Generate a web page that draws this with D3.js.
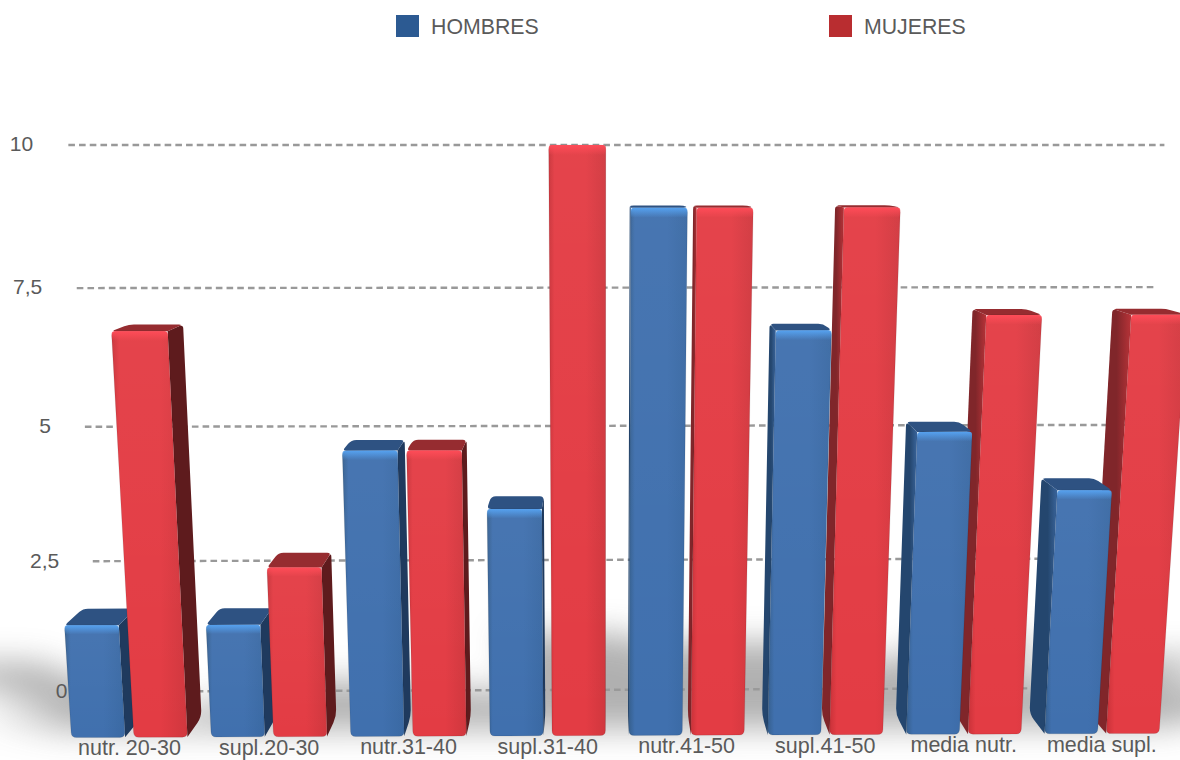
<!DOCTYPE html>
<html lang="es">
<head>
<meta charset="UTF-8">
<title>Hombres y mujeres</title>
<script src="https://cdnjs.cloudflare.com/ajax/libs/d3/7.9.0/d3.min.js"></script>
<style>
    html, body { margin: 0; background: #fff; }
    svg { display: block; }
    text { font-family: "Liberation Sans", Arial, sans-serif; fill: #5a5a5a; }
</style>
</head>
<body>
<svg id="chart" width="1180" height="760"></svg>
<script>
const categories = ['nutr. 20-30', 'supl.20-30', 'nutr.31-40', 'supl.31-40', 'nutr.41-50', 'supl.41-50', 'media nutr.', 'media supl.'];
const seriesNames = ['HOMBRES', 'MUJERES'];
const hombres = [2, 2, 5, 4, 9, 7, 5.3, 4.3];
const mujeres = [7, 3, 5, 10, 9, 9, 7.25, 7.25];
const ticks = [0, 2.5, 5, 7.5, 10];
const tickLabels = ['0', '2,5', '5', '7,5', '10'];

// camera of the 3D scene (one world unit = one value unit)
const cam = { f: 1440, px: 600, py: 380, pitch: 9.27 * Math.PI / 180, yaw: 0.0094, height: 10, dist: 23.4 };
const barDepth = 0.88;
const wallZ = 2.1;

function project([X, Y, Z]) {
    const dy = Y - cam.height, dz = Z + cam.dist + X * cam.yaw;
    const s = Math.sin(cam.pitch), c = Math.cos(cam.pitch);
    const yc = dy * c + dz * s, zc = dz * c - dy * s;
    return [cam.px + cam.f * X / zc, cam.py - cam.f * yc / zc];
}

const x = d3.scaleBand().domain(categories).range([-9.24, 9.83]).paddingInner(0.17).paddingOuter(0.085);
const xSeries = d3.scaleBand().domain(seriesNames).range([0, x.bandwidth()]).paddingInner(0.14);
const y = d3.scaleLinear().domain([0, 10]).range([0, 10]);

const palette = {
    HOMBRES: { swatch: '#2c5a92', edge: '#36608f', face: '#4070ae', end: '#3a69a3', glow: '#56a2f0', top: '#2e5282', sideIn: '#1f3a5e', sideOut: '#24466e', lit: '#3a659c' },
    MUJERES: { swatch: '#b92d30', edge: '#c93239', face: '#e33c44', end: '#d0373e', glow: '#ff4c58', top: '#962c30', sideIn: '#5e1b1d', sideOut: '#80262a', lit: '#b83338' }
};

const svg = d3.select('#chart');
const defs = svg.append('defs');

defs.append('filter').attr('id', 'soft')
    .attr('x', '-20%').attr('y', '-40%').attr('width', '140%').attr('height', '180%')
    .append('feGaussianBlur').attr('stdDeviation', 16);

const fade = defs.append('linearGradient').attr('id', 'sheen').attr('x1', 0).attr('x2', 0).attr('y1', 0).attr('y2', 1);
fade.append('stop').attr('offset', 0).attr('stop-color', '#fff').attr('stop-opacity', 0.04);
fade.append('stop').attr('offset', 1).attr('stop-color', '#fff').attr('stop-opacity', 0);

seriesNames.forEach(name => {
    const p = palette[name];
    const g = defs.append('linearGradient').attr('id', 'front-' + name);
    [[0, p.edge], [0.1, p.face], [0.65, p.face], [1, p.end]].forEach(([o, col]) => {
        g.append('stop').attr('offset', o).attr('stop-color', col);
    });
    const h = defs.append('linearGradient').attr('id', 'glow-' + name).attr('x1', 0).attr('x2', 0).attr('y1', 0).attr('y2', 1);
    h.append('stop').attr('offset', 0).attr('stop-color', p.glow);
    h.append('stop').attr('offset', 1).attr('stop-color', p.glow).attr('stop-opacity', 0);
    // lit side of the bars right of the middle
    const side = defs.append('linearGradient').attr('id', 'side-' + name);
    [[0, p.sideOut], [0.65, p.sideOut], [1, p.lit]].forEach(([o, col]) => {
        side.append('stop').attr('offset', o).attr('stop-color', col);
    });
});

// polygon with its corners eased off, radii given per corner
function roundPath(pts, radii) {
    const n = pts.length;
    let d = '';
    pts.forEach((p, i) => {
        const prev = pts[(i + n - 1) % n], next = pts[(i + 1) % n];
        const a = towards(p, prev, radii[i]), b = towards(p, next, radii[i]);
        d += (i === 0 ? 'M' : 'L') + a[0] + ',' + a[1] + 'Q' + p[0] + ',' + p[1] + ' ' + b[0] + ',' + b[1];
    });
    return d + 'Z';
}

function towards(p, q, r) {
    const len = Math.hypot(q[0] - p[0], q[1] - p[1]);
    const t = Math.min(r, len / 2) / (len || 1);
    return [p[0] + (q[0] - p[0]) * t, p[1] + (q[1] - p[1]) * t];
}

// one record per bar
const bars = [];
categories.forEach((cat, i) => {
    [hombres, mujeres].forEach((values, k) => {
        const name = seriesNames[k];
        const x0 = x(cat) + xSeries(name);
        bars.push({ cat, name, value: values[i], x0, x1: x0 + xSeries.bandwidth() });
    });
});

// floor shadows fall back and away from the middle
const shadow = svg.append('g').attr('filter', 'url(#soft)').attr('opacity', 0.68);
bars.forEach(b => {
    const h = y(b.value);
    const reach = h * 0.52, spread = 0.09 * h;
    const base = [[b.x0 - 0.3, 0, 0.3], [b.x1 + 0.3, 0, 0.3]];
    const tip = [
        [b.x1 + 0.5 + b.x1 * spread, 0, reach],
        [b.x0 - 0.5 + b.x0 * spread, 0, reach]
    ];
    shadow.append('path')
        .attr('d', 'M' + base.concat(tip).map(project).join('L') + 'Z')
        .attr('fill', '#8c8c8c');
});

// back wall grid
const gridLeft = -9.26, gridRight = 9.9;
const wallX = -9.87;
const grid = svg.append('g');
ticks.forEach((t, i) => {
    const from = project([gridLeft, y(t), wallZ]);
    const to = project([gridRight, y(t), wallZ]);
    grid.append('line')
        .attr('x1', from[0]).attr('y1', from[1])
        .attr('x2', to[0]).attr('y2', to[1])
        .attr('stroke', '#999').attr('stroke-width', 2.4).attr('stroke-dasharray', '6.6 4.1');
    const lab = project([wallX, y(t), wallZ]);
    grid.append('text')
        .attr('x', lab[0]).attr('y', lab[1] - 1).attr('dy', '0.35em')
        .attr('text-anchor', 'end').attr('font-size', 21)
        .text(tickLabels[i]);
});

// bars nearest the middle go last so they cover their neighbours' sides
bars.sort((a, b) => Math.abs(b.x0 + b.x1) - Math.abs(a.x0 + a.x1));

const barLayer = svg.append('g');
bars.forEach(b => {
    const p = palette[b.name];
    const h = y(b.value);
    const g = barLayer.append('g');
    const leftSide = b.x0 + b.x1 > 0;
    const sx = leftSide ? b.x0 : b.x1;

    g.append('path')
        .attr('d', roundPath([[sx, 0, 0], [sx, h, 0], [sx, h, barDepth], [sx, 0, barDepth]].map(project), [0, 0, 4, 7]))
        .attr('fill', leftSide ? `url(#side-${b.name})` : p.sideIn);

    g.append('path')
        .attr('d', roundPath([[b.x0, h, 0], [b.x1, h, 0], [b.x1, h, barDepth], [b.x0, h, barDepth]].map(project),
            leftSide ? [0, 4, 5, 4] : [4, 0, 4, 5]))
        .attr('fill', p.top);

    const front = roundPath([[b.x0, 0, 0], [b.x1, 0, 0], [b.x1, h, 0], [b.x0, h, 0]].map(project), [5, 5, 5, 5]);
    g.append('path').attr('d', front).attr('fill', `url(#front-${b.name})`)
        .attr('stroke', '#000').attr('stroke-opacity', 0.12).attr('stroke-width', 0.8);
    g.append('path').attr('d', front).attr('fill', 'url(#sheen)');

    g.append('path')
        .attr('d', roundPath([[b.x0, h - 0.16, 0], [b.x1, h - 0.16, 0], [b.x1, h, 0], [b.x0, h, 0]].map(project), [2, 2, 3, 3]))
        .attr('fill', `url(#glow-${b.name})`);
});

// category labels under the front edge of each group
categories.forEach(cat => {
    const mid = x(cat) + x.bandwidth() / 2;
    const at = project([mid, 0, 0]);
    svg.append('text')
        .attr('x', at[0]).attr('y', at[1] + 10.5).attr('dy', '0.35em')
        .attr('text-anchor', 'middle').attr('font-size', 21.5)
        .text(cat);
});

// legend
const legendX = d3.scalePoint().domain(seriesNames).range([396, 829]);
seriesNames.forEach(name => {
    svg.append('rect').attr('x', legendX(name)).attr('y', 15)
        .attr('width', 23).attr('height', 22).attr('fill', palette[name].swatch);
    svg.append('text').attr('x', legendX(name) + 35).attr('y', 34)
        .attr('font-size', 21.3).text(name);
});
</script>
</body>
</html>
